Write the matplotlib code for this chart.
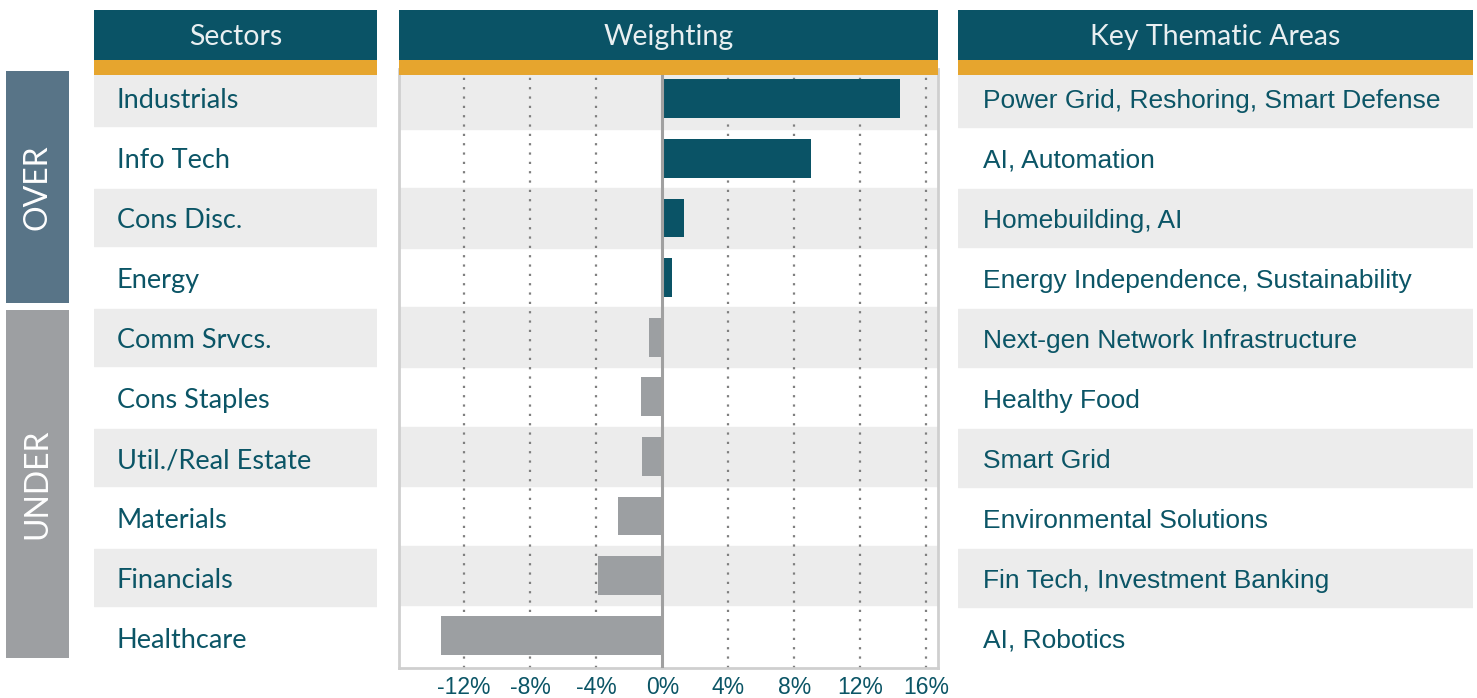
import matplotlib
matplotlib.use("Agg")
import matplotlib.pyplot as plt
from matplotlib.patches import Rectangle

# ---------------- data ----------------
sectors = ["Industrials", "Info Tech", "Cons Disc.", "Energy", "Comm Srvcs.",
           "Cons Staples", "Util./Real Estate", "Materials", "Financials", "Healthcare"]
weights = [14.4, 9.0, 1.3, 0.6, -0.8, -1.3, -1.2, -2.7, -3.9, -13.4]
themes = ["Power Grid, Reshoring, Smart Defense", "AI, Automation", "Homebuilding, AI",
          "Energy Independence, Sustainability", "Next-gen Network Infrastructure",
          "Healthy Food", "Smart Grid", "Environmental Solutions",
          "Fin Tech, Investment Banking", "AI, Robotics"]
tick_values = [-12, -8, -4, 0, 4, 8, 12, 16]
tick_labels = ["-12%", "-8%", "-4%", "0%", "4%", "8%", "12%", "16%"]
headers = ["Sectors", "Weighting", "Key Thematic Areas"]
group_labels = ["OVER", "UNDER"]
group_sizes = [4, 6]

# ---------------- style ----------------
TEAL = "#0a5366"
ORANGE = "#e6a52e"
BAND = "#ececec"
OVER_C = "#587487"
UNDER_C = "#9d9fa2"
NEG_C = "#9c9fa2"
TXT = "#0b5566"
HDR_TXT = "#e9eff1"

W, H = 1477, 698
fig = plt.figure(figsize=(W / 100, H / 100), dpi=100)


def fx(x):
    return x / W


def fy(y):
    return 1 - y / H


def add_axes_px(x0, y0, x1, y1):
    return fig.add_axes([fx(x0), fy(y1), (x1 - x0) / W, (y1 - y0) / H])


def rect_px(x0, y0, x1, y1, color, z=1):
    fig.patches.append(Rectangle((fx(x0), fy(y1)), (x1 - x0) / W, (y1 - y0) / H,
                                 transform=fig.transFigure, facecolor=color,
                                 edgecolor="none", zorder=z))


n = len(sectors)
SIDE_YLIM = (n - 0.5, -0.5)      # side columns: 60 px per row
MID_YLIM = (n - 0.45, -0.5)      # bar panel
TXT_DY = 0.03

# column x-ranges
cols = [(94, 377), (399, 938), (958, 1473)]

# ---------------- headers ----------------
for (x0, x1), title in zip(cols, headers):
    rect_px(x0, 10, x1, 60, TEAL, z=5)
    rect_px(x0, 60, x1, 75, ORANGE, z=5)
    fig.text(fx((x0 + x1) / 2), fy(37), title, ha="center", va="center",
             fontsize=20.5, color=HDR_TXT, family="Lato", zorder=6)

# ---------------- left column (sectors) ----------------
axL = add_axes_px(cols[0][0], 69, cols[0][1], 669)
axL.set_xlim(0, 1)
axL.set_ylim(*SIDE_YLIM)
axL.axis("off")
for i, s in enumerate(sectors):
    if i % 2 == 0:
        axL.axhspan(i - 0.5, i + 0.45, color=BAND, zorder=0)
    axL.text(0.08, i + TXT_DY, s, ha="left", va="center", fontsize=19.5, color=TXT,
             family="Lato")

# ---------------- OVER / UNDER boxes ----------------
axG = add_axes_px(6, 69, 69, 669)
axG.set_xlim(0, 1)
axG.set_ylim(*SIDE_YLIM)
axG.axis("off")
start = 0
for lab, size, col in zip(group_labels, group_sizes, [OVER_C, UNDER_C]):
    if start == 0:
        y0 = start - 0.467
        y1 = start + size - 0.6
    else:
        y0 = start - 0.483
        y1 = start + size - 0.683
    axG.add_patch(Rectangle((0, y0), 1, y1 - y0, facecolor=col, edgecolor="none"))
    yc = (y0 + y1) / 2
    axG.text(0.5, yc, lab, rotation=90, ha="center", va="center", fontsize=23,
             color="white", family="Lato")
    start += size

# ---------------- middle column (bars) ----------------
axM = add_axes_px(cols[1][0], 69, cols[1][1], 668)
axM.set_xlim(-15.95, 16.7)
axM.set_ylim(*MID_YLIM)
for i in range(n):
    if i % 2 == 0:
        axM.axhspan(i - 0.5, i + 0.5, color=BAND, zorder=0)
for t in tick_values:
    if t == 0:
        continue
    axM.axvline(t, color="#7f7f7f", lw=1.6, ls=(0, (1, 3.2)), zorder=1)
axM.axvline(0, color="#a0a0a0", lw=2.2, zorder=3)
colors = [TEAL if w > 0 else NEG_C for w in weights]
axM.barh(range(n), weights, height=0.65, color=colors, zorder=2)
axM.spines["top"].set_visible(False)
for sp in ["left", "right", "bottom"]:
    axM.spines[sp].set_color("#cfcfcf")
    axM.spines[sp].set_linewidth(2)
axM.set_yticks([])
axM.set_xticks(tick_values)
axM.set_xticklabels(tick_labels, fontsize=16.5, color=TXT, family="Liberation Sans")
axM.tick_params(axis="x", length=0, pad=6)

# ---------------- right column (themes) ----------------
axR = add_axes_px(cols[2][0], 69, cols[2][1], 669)
axR.set_xlim(0, 1)
axR.set_ylim(*SIDE_YLIM)
axR.axis("off")
for i, t in enumerate(themes):
    if i % 2 == 0:
        axR.axhspan(i - 0.5, i + 0.47, color=BAND, zorder=0)
    axR.text(0.048, i + TXT_DY, t, ha="left", va="center", fontsize=19, color=TXT,
             family="Liberation Sans")

fig.savefig("out.png", dpi=100, facecolor="white")
